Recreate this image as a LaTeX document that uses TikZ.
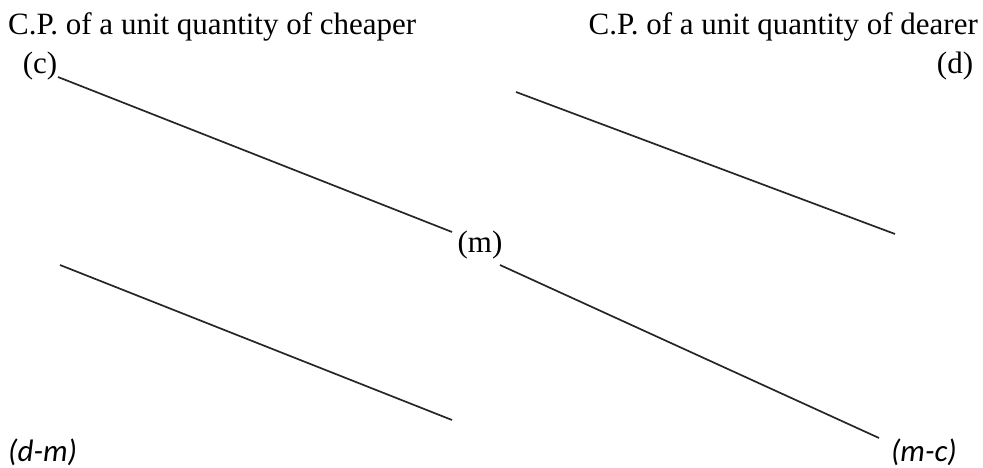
\documentclass[tikz,border=0pt]{standalone}
\usepackage{fontspec}
\setmainfont{Liberation Serif}
\newfontfamily\itfam{Carlito}
\begin{document}
\begin{tikzpicture}[x=1pt,y=-1pt,
  lab/.style={inner sep=0pt,font=\fontsize{31}{34}\selectfont},
  itlab/.style={inner sep=0pt,font=\itfam\itshape\fontsize{31}{33}\selectfont},
  ln/.style={line width=1.7pt,black!85}]
\useasboundingbox (0,0) rectangle (983,468);
\node[lab,anchor=base west] (cheap) at (8,35) {C.P. of a unit quantity of cheaper};
\node[lab,anchor=base east] (dear) at (978,35) {C.P. of a unit quantity of dearer};
\node[lab,anchor=base] (c) at (40,74) {(c)};
\node[lab,anchor=base] (d) at (955,74) {(d)};
\node[lab,anchor=base] (m) at (480,252) {(m)};
\node[itlab,anchor=base west] (dm) at (8,461) {(d-m)};
\node[itlab,anchor=base east] (mc) at (957,461) {(m-c)};
\coordinate (a1) at (58,77);
\coordinate (a2) at (452,232);
\coordinate (b1) at (500,265);
\coordinate (b2) at (879,438);
\coordinate (r1) at (516,92);
\coordinate (r2) at (895,234);
\coordinate (l1) at (60,265);
\coordinate (l2) at (452,420);
\draw[ln] (a1) -- (a2);
\draw[ln] (b1) -- (b2);
\draw[ln] (r1) -- (r2);
\draw[ln] (l1) -- (l2);
\end{tikzpicture}
\end{document}
